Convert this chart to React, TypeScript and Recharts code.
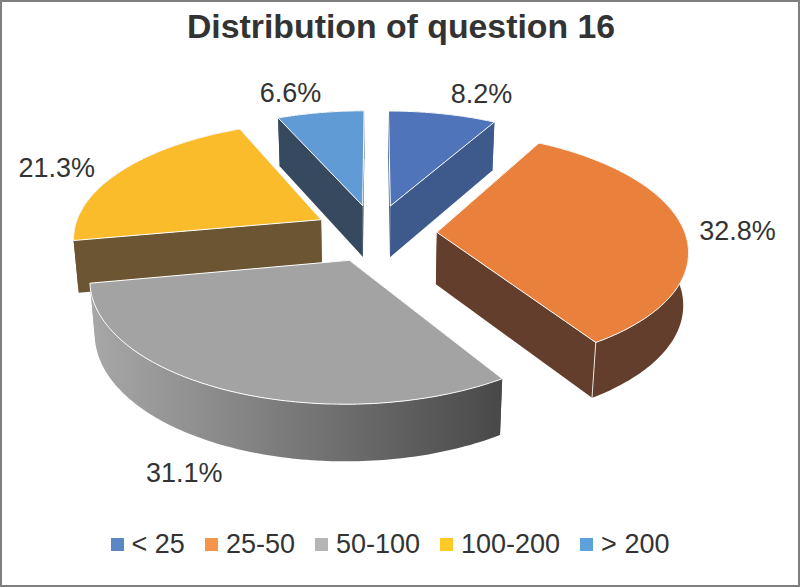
import React from 'react';
import { PieChart, Pie, Legend } from 'recharts';

const categories = ['< 25', '25-50', '50-100', '100-200', '> 200'];
const shares = [8.2, 32.8, 31.1, 21.3, 6.6];
const topColors = ['#4f74b9', '#e9803c', '#a3a3a3', '#fbbc2c', '#619bd5'];
const sideColors = ['#3e5a8d', '#643e2c', 'url(#graySide)', '#6b5532', '#37495f'];
const swatchColors = ['#5b87c5', '#f5954b', '#b5b5b5', '#ffc926', '#5ea2dc'];
// label offsets from the middle of each slice's rim, in px
const labelNudge = [[39, -20], [54, 2], [-43, 83], [-65, -3], [-30, -20]];
// only the orange slice shows a light seam on its front corner
const cornerSeam = [false, true, false, false, false];

// painted back to front, so the gray slice ends up over the yellow wall
const paintOrder = [3, 4, 0, 1, 2];
const data = paintOrder.map((i) => ({
  name: categories[i],
  value: shares[i],
  fill: topColors[i],
  side: sideColors[i],
  nudge: labelNudge[i],
  seam: cornerSeam[i],
}));
const before = shares.slice(0, 3).reduce((a, b) => a + b, 0);
const startAngle = 90 - (before / 100) * 360;

const EXPLODE = 0.25;
const SQUASH = 0.465;
const PERSP = 0.14;
const DEPTH = 52;
const rad = (d: number) => (d * Math.PI) / 180;

// clock angle on the pie plane -> screen position
function project(cx: number, cy: number, R: number, mid: number, angle: number, r: number) {
  const a = rad(90 - angle);
  const m = rad(90 - mid);
  const u = r * Math.sin(a) + EXPLODE * Math.sin(m);
  const v = r * Math.cos(a) + EXPLODE * Math.cos(m);
  const s = 1 / (1 + PERSP * v);
  return { x: cx + R * u * s, y: cy - R * SQUASH * v * s, s };
}

function lower(cx: number, p: { x: number; y: number; s: number }) {
  return { x: cx + (p.x - cx) * 0.983, y: p.y + DEPTH * Math.sqrt(p.s) };
}

const toPath = (pts: { x: number; y: number }[]) =>
  pts.map((p, i) => `${i ? 'L' : 'M'}${p.x.toFixed(1)},${p.y.toFixed(1)}`).join('') + 'Z';

const Slice3D = (props: any) => {
  const { cx, cy, outerRadius: R, startAngle: sa, endAngle: ea, midAngle, fill, side, seam } = props;
  const apex = project(cx, cy, R, midAngle, 0, 0);
  const arc: { x: number; y: number; s: number }[] = [];
  const steps = Math.max(2, Math.ceil(Math.abs(sa - ea)));
  for (let i = 0; i <= steps; i++) {
    arc.push(project(cx, cy, R, midAngle, sa + ((ea - sa) * i) / steps, 1));
  }
  const first = arc[0];
  const last = arc[arc.length - 1];
  const wall = (p: any) => toPath([apex, p, lower(cx, p), lower(cx, apex)]);
  const rim = toPath([...arc, ...arc.slice().reverse().map((p) => lower(cx, p))]);
  const cornerEnd = lower(cx, last);
  return (
    <g>
      <defs>
        <linearGradient id="graySide" gradientUnits="userSpaceOnUse" x1="90" y1="0" x2="500" y2="0">
          <stop offset="0%" stopColor="#a8a8a8" />
          <stop offset="100%" stopColor="#494949" />
        </linearGradient>
      </defs>
      <path d={wall(first)} fill={side} />
      <path d={wall(last)} fill={side} />
      <path d={rim} fill={side} />
      {seam && <line x1={last.x} y1={last.y} x2={cornerEnd.x} y2={cornerEnd.y} stroke="#e8e2dc" strokeWidth={1} />}
      <path d={toPath([apex, ...arc])} fill={fill} stroke="#ffffff" strokeWidth={1} strokeLinejoin="round" />
    </g>
  );
};

const renderLabel = (props: any) => {
  const { cx, cy, outerRadius: R, midAngle, payload, value } = props;
  const item = payload && payload.nudge ? payload : props;
  const p = project(cx, cy, R, midAngle, midAngle, 1);
  return (
    <text
      x={p.x + item.nudge[0]}
      y={p.y + item.nudge[1]}
      textAnchor="middle"
      dominantBaseline="central"
      fontFamily="Liberation Sans"
      fontSize={27}
      fill="#333333"
    >
      {`${(value ?? item.value).toFixed(1)}%`}
    </text>
  );
};

const LegendRow = () => (
  <div
    style={{
      display: 'flex',
      justifyContent: 'center',
      gap: 20,
      fontFamily: 'Liberation Sans',
      fontSize: 27,
      color: '#333333',
      lineHeight: '30px',
    }}
  >
    {categories.map((c, i) => (
      <span key={c} style={{ display: 'flex', alignItems: 'center' }}>
        <span style={{ width: 13, height: 13, background: swatchColors[i], marginRight: 8 }} />
        {c}
      </span>
    ))}
  </div>
);

export default function App() {
  return (
    <div
      style={{
        position: 'absolute',
        left: 0,
        top: 0,
        width: 800,
        height: 587,
        boxSizing: 'border-box',
        border: '2px solid #7f7f7f',
        background: '#ffffff',
      }}
    >
      <div
        style={{
          position: 'absolute',
          left: -1,
          top: 6,
          width: 800,
          textAlign: 'center',
          fontFamily: 'Liberation Sans',
          fontWeight: 'bold',
          fontSize: 33.8,
          lineHeight: '36px',
          color: '#333333',
        }}
      >
        Distribution of question 16
      </div>
      <div style={{ position: 'absolute', left: -2, top: -2 }}>
        <PieChart width={800} height={587} margin={{ top: 0, right: 0, bottom: 0, left: 0 }}>
          <Pie
            data={data}
            dataKey="value"
            nameKey="name"
            cx={375}
            cy={233}
            innerRadius={0}
            outerRadius={248}
            startAngle={startAngle}
            endAngle={startAngle - 360}
            isAnimationActive={false}
            shape={Slice3D}
            label={renderLabel}
            labelLine={false}
          />
          <Legend
            content={LegendRow}
            wrapperStyle={{ position: 'absolute', left: -10, width: 800, top: 529, bottom: 'auto' }}
          />
        </PieChart>
      </div>
    </div>
  );
}
